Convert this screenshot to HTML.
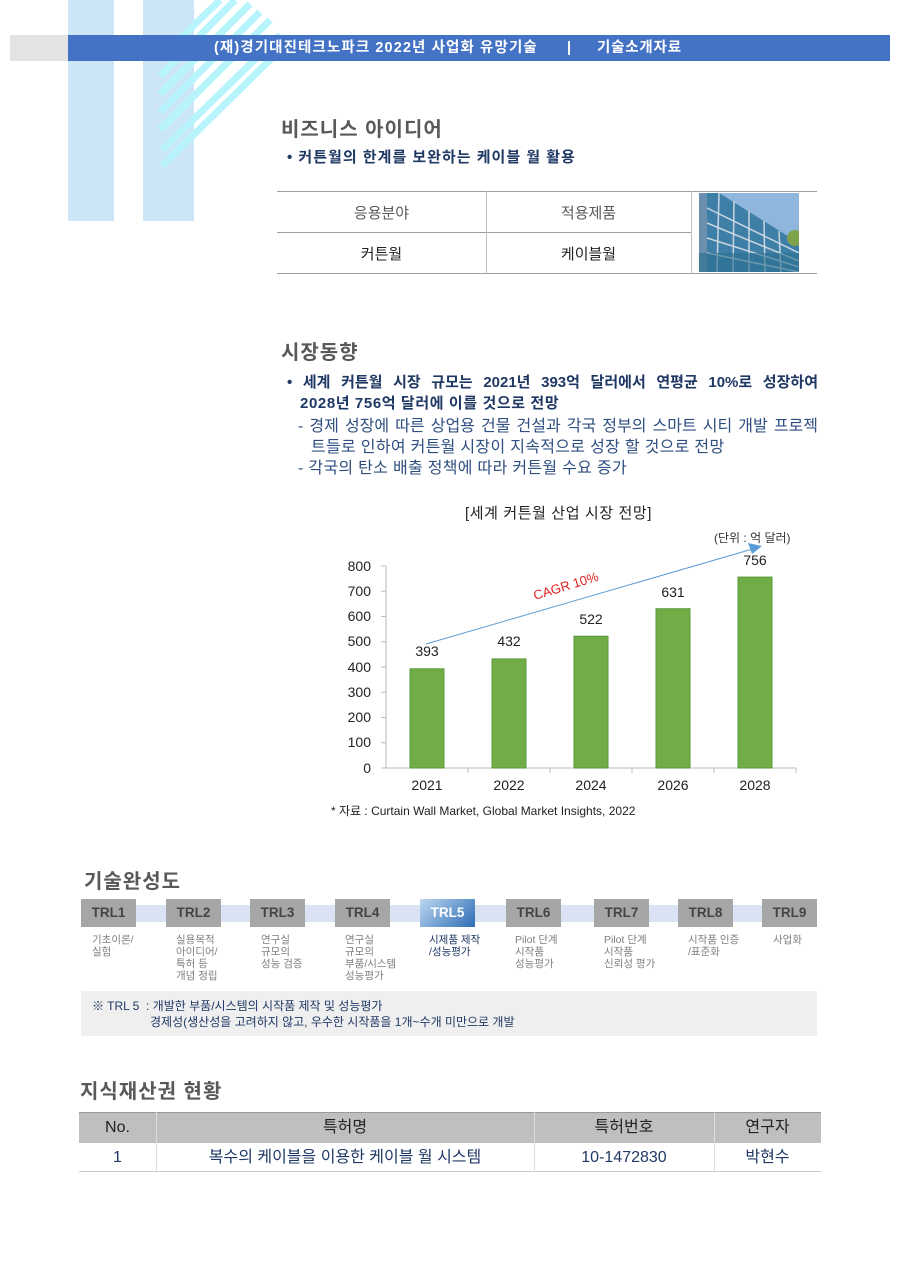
<!DOCTYPE html>
<html><head><meta charset="utf-8"><style>
*{margin:0;padding:0;box-sizing:border-box}
body{width:900px;height:1273px;background:#fff;position:relative;overflow:hidden;font-family:"Liberation Sans","Noto Sans CJK KR",sans-serif}
.a{position:absolute;white-space:nowrap}
.j{position:absolute;white-space:nowrap;text-align:justify;text-align-last:justify}
.h{color:#595959;font-size:20px;font-weight:bold;letter-spacing:1px}
.b{color:#1f3864;font-weight:bold;font-size:15px;letter-spacing:1px}
.t{color:#2f4f80;font-size:16px;letter-spacing:0.3px}
</style></head><body>
<!-- decoration -->
<div class="a" style="left:68px;top:0;width:46px;height:221px;background:#cde6f7"></div>
<div class="a" style="left:143px;top:0;width:51px;height:221px;background:#cde6f7"></div>
<svg class="a" style="left:140px;top:0" width="150" height="170">
<g stroke="#b8f4fb" stroke-width="7">
<line x1="20" y1="130" x2="130" y2="20"/><line x1="20" y1="112" x2="120" y2="12"/><line x1="20" y1="94" x2="110" y2="4"/><line x1="20" y1="76" x2="95" y2="0"/><line x1="22" y1="56" x2="80" y2="0"/><line x1="22" y1="150" x2="140" y2="35"/><line x1="22" y1="166" x2="140" y2="50"/>
</g></svg>
<div class="a" style="left:10px;top:35px;width:58px;height:26px;background:#e3e3e3"></div>
<div class="a" style="left:68px;top:35px;width:822px;height:26px;background:#4472c4"></div>
<div class="a" style="left:214px;top:35px;height:26px;line-height:26px;color:#fff;font-weight:bold;font-size:14.5px;letter-spacing:1.1px">(재)경기대진테크노파크 2022년 사업화 유망기술</div>
<div class="a" style="left:567px;top:35px;height:26px;line-height:26px;color:#fff;font-weight:bold;font-size:14.5px">|</div>
<div class="a" style="left:597px;top:35px;height:26px;line-height:26px;color:#fff;font-weight:bold;font-size:14.5px;letter-spacing:0.8px">기술소개자료</div>

<div class="a h" style="left:281px;top:113px">비즈니스 아이디어</div>
<div class="a b" style="left:287px;top:146px">• 커튼월의 한계를 보완하는 케이블 월 활용</div>

<!-- table -->
<div class="a" style="left:277px;top:191px;width:540px;height:1px;background:#a0a0a0"></div>
<div class="a" style="left:277px;top:232px;width:414px;height:1px;background:#a0a0a0"></div>
<div class="a" style="left:277px;top:273px;width:540px;height:1px;background:#a0a0a0"></div>
<div class="a" style="left:486px;top:191px;width:1px;height:82px;background:#c0c0c0"></div>
<div class="a" style="left:691px;top:191px;width:1px;height:82px;background:#c0c0c0"></div>
<div class="a" style="left:277px;top:202px;width:209px;text-align:center;color:#595959;font-size:15px">응용분야</div>
<div class="a" style="left:486px;top:202px;width:205px;text-align:center;color:#595959;font-size:15px">적용제품</div>
<div class="a" style="left:277px;top:243px;width:209px;text-align:center;color:#222;font-size:15px">커튼월</div>
<div class="a" style="left:486px;top:243px;width:205px;text-align:center;color:#222;font-size:15px">케이블월</div>
<svg class="a" style="left:699px;top:193px" width="100" height="79">
<rect width="100" height="79" fill="#8fb7dd"/>
<polygon points="0,0 20,0 100,55 100,79 0,79" fill="#6b8fae"/>
<polygon points="8,0 20,0 100,50 100,79 8,79" fill="#3e7fa8"/>
<g stroke="#c9d6e0" stroke-width="1.5"><line x1="8" y1="15" x2="100" y2="60"/><line x1="8" y1="30" x2="100" y2="68"/><line x1="8" y1="45" x2="100" y2="74"/><line x1="8" y1="60" x2="100" y2="79"/><line x1="20" y1="0" x2="18" y2="79"/><line x1="35" y1="8" x2="34" y2="79"/><line x1="50" y1="18" x2="50" y2="79"/><line x1="65" y1="28" x2="66" y2="79"/><line x1="80" y1="38" x2="82" y2="79"/></g>
<rect x="0" y="60" width="100" height="19" fill="#2a6e8e" opacity=".6"/>
<circle cx="96" cy="45" r="8" fill="#7ea34a"/>
</svg>

<div class="a h" style="left:281px;top:336px">시장동향</div>
<div class="j b" style="left:287px;top:371px;width:531px;letter-spacing:0">• 세계 커튼월 시장 규모는 2021년 393억 달러에서 연평균 10%로 성장하여</div>
<div class="a b" style="left:300px;top:392px;letter-spacing:0.6px">2028년 756억 달러에 이를 것으로 전망</div>
<div class="j t" style="left:298px;top:412px;width:520px;letter-spacing:0">- 경제 성장에 따른 상업용 건물 건설과 각국 정부의 스마트 시티 개발 프로젝</div>
<div class="a t" style="left:311px;top:433px">트들로 인하여 커튼월 시장이 지속적으로 성장 할 것으로 전망</div>
<div class="a t" style="left:298px;top:454px">- 각국의 탄소 배출 정책에 따라 커튼월 수요 증가</div>

<!-- chart -->
<div class="a" style="left:465px;top:502px;color:#222;font-size:15px;letter-spacing:0.6px">[세계 커튼월 산업 시장 전망]</div>
<div class="a" style="left:714px;top:529px;color:#333;font-size:12px">(단위 : 억 달러)</div>
<svg class="a" style="left:330px;top:540px" width="480" height="260" font-family="Liberation Sans,sans-serif" font-size="14" fill="#222">
<line x1="56" y1="26" x2="56" y2="228" stroke="#bbb"/>
<line x1="56" y1="228" x2="466" y2="228" stroke="#bbb"/>
<g stroke="#bbb"><line x1="51" y1="26" x2="56" y2="26"/><line x1="51" y1="51.25" x2="56" y2="51.25"/><line x1="51" y1="76.5" x2="56" y2="76.5"/><line x1="51" y1="101.75" x2="56" y2="101.75"/><line x1="51" y1="127" x2="56" y2="127"/><line x1="51" y1="152.25" x2="56" y2="152.25"/><line x1="51" y1="177.5" x2="56" y2="177.5"/><line x1="51" y1="202.75" x2="56" y2="202.75"/><line x1="51" y1="228" x2="56" y2="228"/>
<line x1="138" y1="228" x2="138" y2="233"/><line x1="220" y1="228" x2="220" y2="233"/><line x1="302" y1="228" x2="302" y2="233"/><line x1="384" y1="228" x2="384" y2="233"/><line x1="466" y1="228" x2="466" y2="233"/></g>
<g text-anchor="end"><text x="41" y="31">800</text><text x="41" y="56">700</text><text x="41" y="81">600</text><text x="41" y="106">500</text><text x="41" y="132">400</text><text x="41" y="157">300</text><text x="41" y="182">200</text><text x="41" y="207">100</text><text x="41" y="233">0</text></g>
<g fill="#70ad47" stroke="#5a9a3a"><rect x="80" y="128.8" width="34" height="99.2"/><rect x="162" y="118.9" width="34" height="109.1"/><rect x="244" y="96.2" width="34" height="131.8"/><rect x="326" y="68.7" width="34" height="159.3"/><rect x="408" y="37.1" width="34" height="190.9"/></g>
<g text-anchor="middle"><text x="97" y="116">393</text><text x="179" y="106">432</text><text x="261" y="84">522</text><text x="343" y="57">631</text><text x="425" y="25">756</text>
<text x="97" y="250">2021</text><text x="179" y="250">2022</text><text x="261" y="250">2024</text><text x="343" y="250">2026</text><text x="425" y="250">2028</text></g>
<line x1="96" y1="104" x2="426" y2="8" stroke="#5b9bd5" stroke-width="1"/>
<polygon points="432,6 418,3 422,14" fill="#5b9bd5"/>
<text x="205" y="60" fill="#e02020" font-size="13" transform="rotate(-17 205 60)">CAGR 10%</text>
</svg>
<div class="a" style="left:331px;top:802px;color:#222;font-size:12px">* 자료 : Curtain Wall Market, Global Market Insights, 2022</div>

<!-- TRL -->
<div class="a h" style="left:84px;top:865px">기술완성도</div>
<div class="a" style="left:81px;top:905px;width:736px;height:17px;background:#dae3f3"></div>
<div style="position:absolute;left:81px;top:899px;font-weight:bold;font-size:13.5px;color:#444">
<div class="a" style="left:0;width:55px;height:28px;background:#a6a6a6;line-height:28px;text-align:center">TRL1</div>
<div class="a" style="left:85px;width:55px;height:28px;background:#a6a6a6;line-height:28px;text-align:center">TRL2</div>
<div class="a" style="left:169px;width:55px;height:28px;background:#a6a6a6;line-height:28px;text-align:center">TRL3</div>
<div class="a" style="left:254px;width:55px;height:28px;background:#a6a6a6;line-height:28px;text-align:center">TRL4</div>
<div class="a" style="left:339px;width:55px;height:28px;background:linear-gradient(135deg,#bcd7f0,#2e6db5);color:#fff;line-height:28px;text-align:center">TRL5</div>
<div class="a" style="left:425px;width:55px;height:28px;background:#a6a6a6;line-height:28px;text-align:center">TRL6</div>
<div class="a" style="left:513px;width:55px;height:28px;background:#a6a6a6;line-height:28px;text-align:center">TRL7</div>
<div class="a" style="left:597px;width:55px;height:28px;background:#a6a6a6;line-height:28px;text-align:center">TRL8</div>
<div class="a" style="left:681px;width:55px;height:28px;background:#a6a6a6;line-height:28px;text-align:center">TRL9</div>
</div>
<div style="position:absolute;left:0;top:934px;font-size:10.5px;line-height:12px;color:#808080">
<div class="a" style="left:92px">기초이론/<br>실험</div>
<div class="a" style="left:176px">실용목적<br>아이디어/<br>특허 등<br>개념 정립</div>
<div class="a" style="left:261px">연구실<br>규모의<br>성능 검증</div>
<div class="a" style="left:345px">연구실<br>규모의<br>부품/시스템<br>성능평가</div>
<div class="a" style="left:429px;color:#1f3864">시제품 제작<br>/성능평가</div>
<div class="a" style="left:515px">Pilot 단계<br>시작품<br>성능평가</div>
<div class="a" style="left:604px">Pilot 단계<br>시작품<br>신뢰성 평가</div>
<div class="a" style="left:688px">시작품 인증<br>/표준화</div>
<div class="a" style="left:773px">사업화</div>
</div>
<div class="a" style="left:81px;top:991px;width:736px;height:45px;background:#efefef"></div>
<div class="a" style="left:92px;top:998px;font-size:12px;line-height:16px;color:#1f3864">※ TRL 5 &nbsp;: 개발한 부품/시스템의 시작품 제작 및 성능평가</div>
<div class="a" style="left:150px;top:1014px;font-size:12px;line-height:16px;color:#1f3864">경제성(생산성을 고려하지 않고, 우수한 시작품을 1개~수개 미만으로 개발</div>

<!-- IP -->
<div class="a h" style="left:80px;top:1075px">지식재산권 현황</div>
<div class="a" style="left:79px;top:1112px;width:742px;height:31px;background:#bfbfbf;border-top:1px solid #999"></div>
<div class="a" style="left:79px;top:1171px;width:742px;height:1px;background:#ccc"></div>
<div class="a" style="left:156px;top:1112px;width:1px;height:59px;background:#ddd"></div>
<div class="a" style="left:534px;top:1112px;width:1px;height:59px;background:#ddd"></div>
<div class="a" style="left:714px;top:1112px;width:1px;height:59px;background:#ddd"></div>
<div style="position:absolute;top:1113px;left:0;font-size:16px;color:#222">
<div class="a" style="left:79px;width:77px;height:30px;line-height:30px;text-align:center">No.</div>
<div class="a" style="left:156px;width:378px;height:30px;line-height:30px;text-align:center">특허명</div>
<div class="a" style="left:534px;width:180px;height:30px;line-height:30px;text-align:center">특허번호</div>
<div class="a" style="left:714px;width:107px;height:30px;line-height:30px;text-align:center">연구자</div>
</div>
<div style="position:absolute;top:1144px;left:0;font-size:16px;color:#1f3864">
<div class="a" style="left:79px;width:77px;height:27px;line-height:27px;text-align:center">1</div>
<div class="a" style="left:156px;width:378px;height:27px;line-height:27px;text-align:center">복수의 케이블을 이용한 케이블 월 시스템</div>
<div class="a" style="left:534px;width:180px;height:27px;line-height:27px;text-align:center">10-1472830</div>
<div class="a" style="left:714px;width:107px;height:27px;line-height:27px;text-align:center">박현수</div>
</div>
</body></html>
